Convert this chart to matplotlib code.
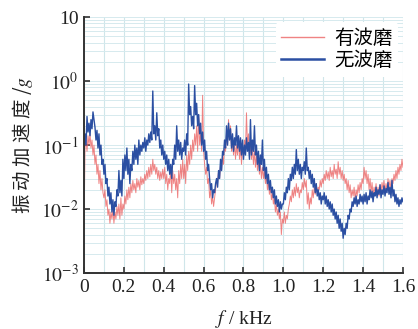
import numpy as np
import matplotlib
matplotlib.use("Agg")
import matplotlib.pyplot as plt
from matplotlib.ticker import FixedLocator, FixedFormatter, MultipleLocator

# frequency axis in kHz, one value every 5 Hz
freq = np.arange(321) * 0.005

# 无波磨 (blue)
no_wear = [
    0.08, 0.15, 0.1, 0.28, 0.16, 0.22, 0.14, 0.25, 0.18, 0.33, 0.25, 0.19, 0.12, 0.17, 0.09, 0.15, 0.07, 0.1, 0.05, 0.06,
    0.035, 0.05, 0.025, 0.03, 0.016, 0.022, 0.012, 0.018, 0.009, 0.014, 0.008, 0.013, 0.011, 0.02, 0.016, 0.04, 0.018, 0.028, 0.016, 0.06,
    0.03, 0.07, 0.04, 0.09, 0.035, 0.06, 0.025, 0.05, 0.04, 0.08, 0.05, 0.1, 0.06, 0.09, 0.05, 0.12, 0.07, 0.1, 0.08, 0.11,
    0.09, 0.13, 0.08, 0.12, 0.1, 0.15, 0.11, 0.16, 0.12, 0.7, 0.15, 0.2, 0.12, 0.32, 0.14, 0.18, 0.09, 0.12, 0.07, 0.1,
    0.06, 0.08, 0.05, 0.07, 0.04, 0.06, 0.035, 0.05, 0.03, 0.06, 0.05, 0.1, 0.06, 0.2, 0.08, 0.12, 0.07, 0.11, 0.06, 0.09,
    0.08, 0.12, 0.07, 0.15, 0.1, 0.9, 0.3, 0.4, 0.2, 0.28, 0.18, 0.85, 0.3, 0.45, 0.2, 0.3, 0.15, 0.22, 0.1, 0.16,
    0.08, 0.12, 0.06, 0.08, 0.04, 0.05, 0.03, 0.02, 0.025, 0.015, 0.02, 0.018, 0.025, 0.03, 0.022, 0.04, 0.03, 0.06, 0.04, 0.08,
    0.07, 0.12, 0.09, 0.2, 0.1, 0.22, 0.12, 0.18, 0.09, 0.15, 0.08, 0.13, 0.1, 0.2, 0.09, 0.14, 0.08, 0.13, 0.07, 0.12,
    0.06, 0.1, 0.07, 0.13, 0.08, 0.11, 0.06, 0.25, 0.07, 0.12, 0.08, 0.2, 0.07, 0.1, 0.05, 0.08, 0.04, 0.07, 0.05, 0.12,
    0.04, 0.06, 0.03, 0.045, 0.025, 0.035, 0.02, 0.028, 0.018, 0.022, 0.015, 0.02, 0.012, 0.016, 0.011, 0.014, 0.009, 0.013, 0.01, 0.012,
    0.012, 0.018, 0.014, 0.022, 0.018, 0.03, 0.02, 0.035, 0.028, 0.045, 0.03, 0.05, 0.035, 0.085, 0.04, 0.06, 0.035, 0.05, 0.03, 0.045,
    0.04, 0.055, 0.035, 0.09, 0.04, 0.045, 0.03, 0.04, 0.025, 0.035, 0.022, 0.03, 0.018, 0.025, 0.016, 0.02, 0.014, 0.018, 0.012, 0.016,
    0.014, 0.018, 0.012, 0.016, 0.011, 0.014, 0.01, 0.013, 0.009, 0.012, 0.008, 0.01, 0.007, 0.009, 0.006, 0.008, 0.005, 0.007, 0.0045, 0.006,
    0.0035, 0.005, 0.004, 0.006, 0.005, 0.008, 0.007, 0.01, 0.009, 0.013, 0.011, 0.015, 0.012, 0.016, 0.011, 0.014, 0.012, 0.017, 0.013, 0.016,
    0.012, 0.017, 0.013, 0.018, 0.012, 0.016, 0.014, 0.02, 0.015, 0.019, 0.013, 0.018, 0.016, 0.022, 0.015, 0.02, 0.017, 0.024, 0.015, 0.02,
    0.017, 0.023, 0.016, 0.021, 0.018, 0.026, 0.017, 0.022, 0.015, 0.028, 0.016, 0.02, 0.013, 0.017, 0.012, 0.015, 0.011, 0.014, 0.012, 0.015, 0.013,
]

# 有波磨 (red)
wear = [
    0.005, 0.09, 0.12, 0.08, 0.14, 0.1, 0.15, 0.09, 0.12, 0.07, 0.1, 0.05, 0.07, 0.035, 0.05, 0.025, 0.04, 0.02, 0.03, 0.018,
    0.015, 0.02, 0.011, 0.014, 0.008, 0.01, 0.006, 0.009, 0.007, 0.01, 0.006, 0.009, 0.007, 0.011, 0.008, 0.012, 0.007, 0.015, 0.008, 0.012,
    0.01, 0.016, 0.012, 0.02, 0.014, 0.022, 0.015, 0.025, 0.018, 0.028, 0.02, 0.025, 0.018, 0.03, 0.022, 0.028, 0.02, 0.032, 0.024, 0.03,
    0.025, 0.035, 0.028, 0.04, 0.03, 0.045, 0.032, 0.05, 0.035, 0.06, 0.04, 0.05, 0.035, 0.045, 0.03, 0.04, 0.028, 0.038, 0.03, 0.042,
    0.03, 0.045, 0.025, 0.035, 0.02, 0.03, 0.025, 0.045, 0.018, 0.04, 0.025, 0.035, 0.02, 0.03, 0.015, 0.04, 0.025, 0.05, 0.03, 0.06,
    0.03, 0.05, 0.025, 0.07, 0.04, 0.08, 0.05, 0.1, 0.06, 0.12, 0.08, 0.15, 0.1, 0.2, 0.08, 0.3, 0.1, 0.15, 0.08, 0.6,
    0.08, 0.05, 0.035, 0.045, 0.025, 0.03, 0.015, 0.02, 0.012, 0.016, 0.011, 0.015, 0.02, 0.03, 0.025, 0.04, 0.03, 0.05, 0.04, 0.07,
    0.05, 0.1, 0.08, 0.15, 0.1, 0.25, 0.12, 0.2, 0.08, 0.12, 0.07, 0.11, 0.06, 0.1, 0.07, 0.13, 0.06, 0.1, 0.05, 0.09,
    0.07, 0.12, 0.08, 0.32, 0.1, 0.15, 0.07, 0.1, 0.06, 0.09, 0.05, 0.08, 0.045, 0.07, 0.04, 0.06, 0.035, 0.05, 0.03, 0.045,
    0.03, 0.04, 0.025, 0.035, 0.02, 0.028, 0.017, 0.022, 0.014, 0.018, 0.012, 0.015, 0.009, 0.012, 0.008, 0.01, 0.007, 0.009, 0.004, 0.007,
    0.006, 0.009, 0.006, 0.008, 0.007, 0.01, 0.012, 0.016, 0.013, 0.02, 0.015, 0.022, 0.016, 0.025, 0.018, 0.022, 0.015, 0.02, 0.018, 0.026,
    0.02, 0.03, 0.022, 0.028, 0.012, 0.018, 0.01, 0.015, 0.012, 0.02, 0.015, 0.022, 0.017, 0.025, 0.018, 0.022, 0.02, 0.028, 0.022, 0.03,
    0.025, 0.035, 0.028, 0.04, 0.03, 0.038, 0.028, 0.045, 0.032, 0.04, 0.03, 0.05, 0.035, 0.042, 0.03, 0.055, 0.035, 0.045, 0.03, 0.04,
    0.028, 0.035, 0.025, 0.03, 0.02, 0.028, 0.018, 0.024, 0.015, 0.02, 0.016, 0.022, 0.014, 0.02, 0.016, 0.024, 0.018, 0.026, 0.02, 0.03,
    0.025, 0.045, 0.03, 0.04, 0.025, 0.035, 0.02, 0.03, 0.018, 0.026, 0.016, 0.022, 0.018, 0.025, 0.017, 0.022, 0.016, 0.024, 0.018, 0.026,
    0.02, 0.028, 0.018, 0.025, 0.02, 0.03, 0.022, 0.028, 0.02, 0.03, 0.025, 0.035, 0.028, 0.04, 0.03, 0.045, 0.035, 0.05, 0.04, 0.06, 0.045,
]

ytick_vals = [1e-3, 1e-2, 1e-1, 1e0, 1e1]
ytick_labels = ["$10^{-3}$", "$10^{-2}$", "$10^{-1}$", "$10^{0}$", "10"]
xtick_vals = [0, 0.2, 0.4, 0.6, 0.8, 1.0, 1.2, 1.4, 1.6]
xtick_labels = ["0", "0.2", "0.4", "0.6", "0.8", "1.0", "1.2", "1.4", "1.6"]

plt.rcParams["font.family"] = ["Liberation Serif", "Noto Sans CJK SC", "DejaVu Sans"]
plt.rcParams["mathtext.fontset"] = "stix"

fig = plt.figure(figsize=(4.18, 3.29), dpi=100)
ax = fig.add_axes([0.201, 0.170, 0.763, 0.778])

ax.plot(freq, wear, color="#ec6464", lw=0.7, alpha=0.8, label="有波磨")
ax.plot(freq, no_wear, color="#2b4fa2", lw=1.0, label="无波磨")

ax.set_yscale("log")
ax.set_xlim(0, 1.6)
ax.set_ylim(1e-3, 10)

ax.xaxis.set_minor_locator(MultipleLocator(0.1))
ax.grid(which="minor", axis="x", color="#cfe6ea", lw=0.8)
ax.grid(which="major", axis="x", color="#cfe6ea", lw=0.8)
ax.grid(which="both", axis="y", color="#d6eaee", lw=0.7)
ax.set_axisbelow(True)

ax.yaxis.set_major_locator(FixedLocator(ytick_vals))
ax.yaxis.set_major_formatter(FixedFormatter(ytick_labels))
ax.xaxis.set_major_locator(FixedLocator(xtick_vals))
ax.xaxis.set_major_formatter(FixedFormatter(xtick_labels))
ax.tick_params(which="major", direction="in", length=4, width=1.2, colors="#333333",
               labelsize=14, labelcolor="#222222", pad=4)
ax.tick_params(which="minor", length=0)

for side in ["top", "right"]:
    ax.spines[side].set_visible(False)
for side in ["left", "bottom"]:
    ax.spines[side].set_color("#333333")
    ax.spines[side].set_linewidth(1.4)

ax.set_xlabel("$f$ / kHz", fontsize=14, color="#222222", labelpad=9)
ax.set_ylabel("振 动 加 速 度 /$g$", family=["Noto Sans CJK SC", "DejaVu Sans"],
              fontsize=14, color="#222222", labelpad=4)

leg = ax.legend(loc="upper right", bbox_to_anchor=(0.985, 0.98), frameon=True, framealpha=1,
                edgecolor="none", handlelength=2.2, borderaxespad=0.0,
                labelspacing=0.05, handletextpad=0.5, borderpad=0.3,
                prop={"family": ["Noto Sans CJK SC", "DejaVu Sans"], "size": 14})
leg.get_lines()[0].set_linewidth(1.0)
leg.get_lines()[1].set_linewidth(1.8)

fig.savefig("out.png", dpi=100)
